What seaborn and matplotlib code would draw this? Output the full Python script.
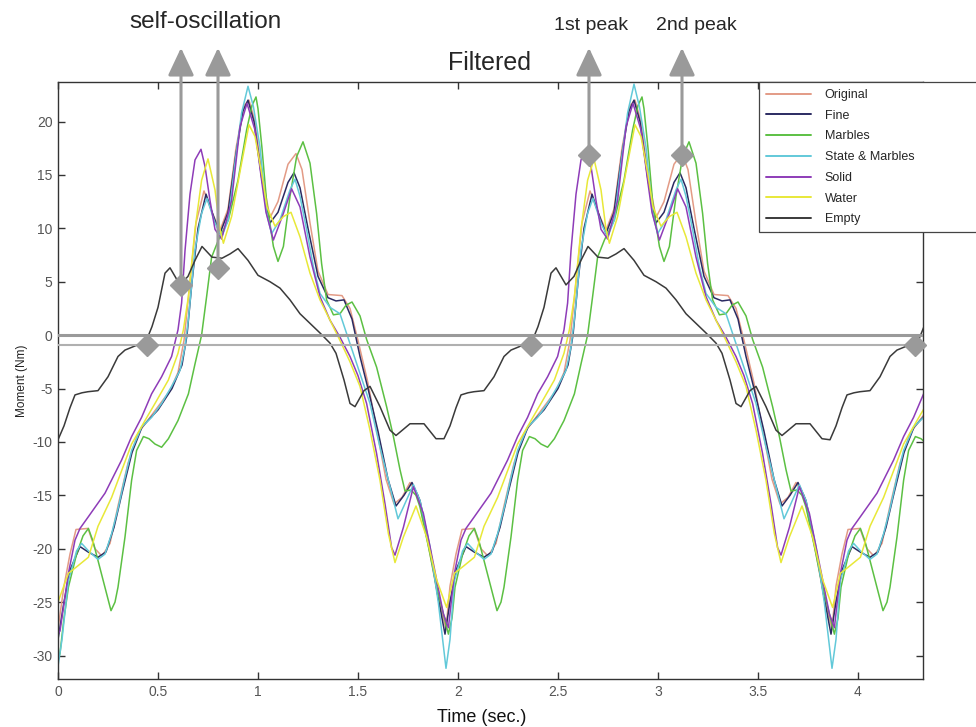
import numpy as np
import pandas as pd
import matplotlib
matplotlib.use("Agg")
import matplotlib.pyplot as plt
import seaborn as sns

# ---- measured moment traces (time in s, moment in Nm) ----
original_t = [0, 0.03, 0.06, 0.09, 0.15, 0.185, 0.22, 0.26, 0.3, 0.35, 0.4, 0.48, 0.56, 0.6, 0.63, 0.66, 0.69, 0.73,
              0.77, 0.81, 0.85, 0.89, 0.93, 0.955, 0.985, 1.02, 1.06, 1.1, 1.15, 1.19, 1.22, 1.26, 1.3, 1.35, 1.42,
              1.46, 1.5, 1.55, 1.6, 1.64, 1.68, 1.72, 1.76, 1.8, 1.85, 1.9,
              1.94, 1.96, 1.99, 2.02, 2.08, 2.115, 2.15, 2.19, 2.23, 2.28, 2.33, 2.41, 2.49, 2.53, 2.56, 2.59, 2.62,
              2.66, 2.70, 2.74, 2.78, 2.82, 2.86, 2.885, 2.915, 2.95, 2.99, 3.03, 3.08, 3.12, 3.15, 3.19, 3.23, 3.28,
              3.35, 3.39, 3.43, 3.48, 3.53, 3.57, 3.61, 3.65, 3.69, 3.73, 3.78, 3.83,
              3.87, 3.89, 3.92, 3.95, 4.01, 4.045, 4.08, 4.12, 4.16, 4.21, 4.26, 4.34]
original_m = [-27.5, -23.5, -20.5, -18.2, -18.1, -20.0, -20.7, -19.5, -16.0, -12.0, -9.2, -7.2, -5.2, -3.5, -0.5, 5.0,
              10.5, 13.5, 11.5, 9.8, 11.8, 17.5, 21.5, 22.0, 20.0, 15.0, 11.0, 12.5, 16.0, 17.0, 15.5, 10.5, 6.0, 3.8,
              3.7, 2.5, -0.5, -4.5, -9.5, -13.5, -15.8, -15.2, -13.8, -15.0, -19.5, -24.5,
              -27.5, -23.5, -20.5, -18.2, -18.1, -20.0, -20.7, -19.5, -16.0, -12.0, -9.2, -7.2, -5.2, -3.5, -0.5, 5.0,
              10.5, 13.5, 11.5, 9.8, 11.8, 17.5, 21.5, 22.0, 20.0, 15.0, 11.0, 12.5, 16.0, 17.0, 15.5, 10.5, 6.0, 3.8,
              3.7, 2.5, -0.5, -4.5, -9.5, -13.5, -15.8, -15.2, -13.8, -15.0, -19.5, -24.5,
              -27.5, -23.5, -20.5, -18.2, -18.1, -20.0, -20.7, -19.5, -16.0, -12.0, -9.2, -7.2]

fine_t = [0, 0.03, 0.06, 0.11, 0.15, 0.2, 0.24, 0.28, 0.32, 0.37, 0.42, 0.5, 0.57, 0.62, 0.645, 0.67, 0.7, 0.74, 0.78,
          0.81, 0.85, 0.89, 0.925, 0.95, 0.98, 1.02, 1.06, 1.1, 1.15, 1.18, 1.21, 1.25, 1.3, 1.35, 1.39, 1.43, 1.47,
          1.51, 1.55, 1.6, 1.65, 1.69, 1.73, 1.77, 1.81, 1.86, 1.9,
          1.935, 1.96, 1.99, 2.04, 2.08, 2.13, 2.17, 2.21, 2.25, 2.30, 2.35, 2.43, 2.50, 2.55, 2.575, 2.60, 2.63,
          2.67, 2.71, 2.74, 2.78, 2.82, 2.855, 2.88, 2.91, 2.95, 2.99, 3.03, 3.08, 3.11, 3.14, 3.18, 3.23, 3.28,
          3.32, 3.36, 3.40, 3.44, 3.48, 3.53, 3.58, 3.62, 3.66, 3.70, 3.74, 3.79, 3.83,
          3.865, 3.89, 3.92, 3.97, 4.01, 4.06, 4.10, 4.14, 4.18, 4.23, 4.28, 4.36]
fine_m = [-28.5, -25.0, -22.0, -19.8, -20.3, -20.8, -20.3, -18.0, -14.8, -11.0, -8.6, -7.0, -5.0, -2.8, 0.0, 5.0, 10.0,
          13.2, 11.0, 9.5, 11.5, 17.0, 21.0, 22.0, 20.0, 14.5, 10.5, 11.5, 14.3, 15.2, 13.8, 10.0, 5.5, 3.5, 3.2, 3.3,
          1.5, -2.0, -5.0, -9.0, -13.5, -16.0, -15.0, -13.8, -15.5, -20.0, -24.5,
          -28.0, -25.0, -22.0, -19.8, -20.3, -20.8, -20.3, -18.0, -14.8, -11.0, -8.6, -7.0, -5.0, -2.8, 0.0, 5.0,
          10.0, 13.2, 11.0, 9.5, 11.5, 17.0, 21.0, 22.0, 20.0, 14.5, 10.5, 11.5, 14.3, 15.2, 13.8, 10.0, 5.5, 3.5,
          3.2, 3.3, 1.5, -2.0, -5.0, -9.0, -13.5, -16.0, -15.0, -13.8, -15.5, -20.0, -24.5,
          -28.0, -25.0, -22.0, -19.8, -20.3, -20.8, -20.3, -18.0, -14.8, -11.0, -8.6, -7.0]

marbles_t = [0, 0.01, 0.03, 0.052, 0.093, 0.125, 0.152, 0.175, 0.2, 0.235, 0.265, 0.285, 0.3, 0.335, 0.368, 0.393,
             0.427, 0.455, 0.485, 0.518, 0.552, 0.6, 0.652, 0.685, 0.718, 0.743, 0.768, 0.802, 0.852, 0.9, 0.943,
             0.97, 0.99, 1.0, 1.02, 1.043, 1.077, 1.1, 1.127, 1.16, 1.193, 1.225, 1.26, 1.293, 1.318, 1.343, 1.377,
             1.41, 1.44, 1.47, 1.51, 1.543, 1.593, 1.643, 1.677, 1.71, 1.735, 1.765, 1.79, 1.81, 1.86, 1.893, 1.927,
             1.952, 1.97, 1.985, 2.023, 2.055, 2.082, 2.105, 2.13, 2.165, 2.195, 2.215, 2.23, 2.265, 2.298, 2.323,
             2.357, 2.385, 2.415, 2.448, 2.482, 2.53, 2.582, 2.615, 2.648, 2.673, 2.698, 2.732, 2.782, 2.83, 2.873,
             2.9, 2.92, 2.93, 2.95, 2.973, 3.007, 3.03, 3.057, 3.09, 3.123, 3.155, 3.19, 3.223, 3.248, 3.273, 3.307,
             3.34, 3.37, 3.4, 3.44, 3.473, 3.523, 3.573, 3.607, 3.64, 3.665, 3.695, 3.72, 3.74, 3.79, 3.823, 3.857,
             3.882, 3.9, 3.915, 3.953, 3.985, 4.012, 4.035, 4.06, 4.095, 4.125, 4.145, 4.16, 4.195, 4.228, 4.253,
             4.287, 4.315, 4.345]
marbles_m = [-30.5, -29.8, -26.5, -23.6, -20.5, -18.8, -18.1, -19.3, -21.1, -23.6, -25.8, -25.0, -23.6, -18.9, -13.6,
             -10.8, -9.5, -9.7, -10.2, -10.5, -9.7, -8.0, -5.5, -2.7, 0.0, 3.6, 7.3, 8.9, 10.8, 14.5, 19.2, 21.5, 22.3,
             21.2, 17.5, 12.5, 8.3, 6.9, 8.3, 13.0, 16.7, 18.1, 16.1, 11.4, 6.7, 3.3, 1.9, 2.0, 2.8, 3.1, 1.8, -0.4,
             -3.0, -6.7, -9.5, -12.6, -14.6, -14.5, -15.0, -16.1, -20.5, -23.6, -26.1,
             -28.0, -26.5, -23.6, -20.5, -18.8, -18.1, -19.3, -21.1, -23.6, -25.8, -25.0, -23.6, -18.9, -13.6, -10.8,
             -9.5, -9.7, -10.2, -10.5, -9.7, -8.0, -5.5, -2.7, 0.0, 3.6, 7.3, 8.9, 10.8, 14.5, 19.2, 21.5, 22.3, 21.2,
             17.5, 12.5, 8.3, 6.9, 8.3, 13.0, 16.7, 18.1, 16.1, 11.4, 6.7, 3.3, 1.9, 2.0, 2.8, 3.1, 1.8, -0.4, -3.0,
             -6.7, -9.5, -12.6, -14.6, -14.5, -15.0, -16.1, -20.5, -23.6, -26.1,
             -28.0, -26.5, -23.6, -20.5, -18.8, -18.1, -19.3, -21.1, -23.6, -25.8, -25.0, -23.6, -18.9, -13.6, -10.8,
             -9.5, -9.7, -10.2]

state_marbles_t = [0, 0.02, 0.052, 0.093, 0.118, 0.152, 0.2, 0.235, 0.268, 0.302, 0.335, 0.368, 0.418, 0.468, 0.518,
                   0.568, 0.61, 0.635, 0.652, 0.685, 0.718, 0.745, 0.785, 0.818, 0.852, 0.885, 0.918, 0.95, 0.977,
                   1.01, 1.043, 1.068, 1.11, 1.16, 1.185, 1.21, 1.243, 1.277, 1.31, 1.36, 1.41, 1.46, 1.51, 1.56,
                   1.61, 1.66, 1.7, 1.727, 1.777, 1.81, 1.86, 1.902,
                   1.94, 1.96, 1.982, 2.023, 2.048, 2.082, 2.13, 2.165, 2.198, 2.232, 2.265, 2.298, 2.348, 2.398,
                   2.448, 2.498, 2.54, 2.565, 2.582, 2.615, 2.648, 2.675, 2.715, 2.748, 2.782, 2.815, 2.848, 2.88,
                   2.907, 2.94, 2.973, 2.998, 3.04, 3.09, 3.115, 3.14, 3.173, 3.207, 3.24, 3.29, 3.34, 3.39, 3.44,
                   3.49, 3.54, 3.59, 3.63, 3.657, 3.707, 3.74, 3.79, 3.832,
                   3.87, 3.89, 3.912, 3.953, 3.978, 4.012, 4.06, 4.095, 4.128, 4.162, 4.195, 4.228, 4.278, 4.328]
state_marbles_m = [-31.0, -28.5, -23.0, -20.2, -19.5, -20.2, -21.0, -20.5, -18.6, -16.1, -13.3, -10.8, -8.6, -7.7,
                   -6.4, -4.8, -3.3, -1.1, 1.5, 8.0, 11.4, 12.8, 10.5, 9.2, 10.8, 16.1, 20.8, 23.3, 21.4, 17.6, 11.4,
                   9.5, 10.8, 13.6, 14.6, 13.0, 9.9, 6.4, 3.9, 2.6, 2.0, -0.8, -3.6, -6.4, -10.5, -14.2, -17.2, -16.1,
                   -14.0, -15.5, -19.8, -25.1,
                   -31.2, -28.5, -23.0, -20.2, -19.5, -20.2, -21.0, -20.5, -18.6, -16.1, -13.3, -10.8, -8.6, -7.7,
                   -6.4, -4.8, -3.3, -1.1, 1.5, 8.0, 11.4, 12.8, 10.5, 9.2, 10.8, 16.1, 20.8, 23.5, 21.4, 17.6, 11.4,
                   9.5, 10.8, 13.6, 14.6, 13.0, 9.9, 6.4, 3.9, 2.6, 2.0, -0.8, -3.6, -6.4, -10.5, -14.2, -17.2, -16.1,
                   -14.0, -15.5, -19.8, -25.1,
                   -31.2, -28.5, -23.0, -20.2, -19.5, -20.2, -21.0, -20.5, -18.6, -16.1, -13.3, -10.8, -8.6, -7.7]

solid_t = [0, 0.01, 0.052, 0.085, 0.11, 0.152, 0.235, 0.318, 0.368, 0.418, 0.468, 0.518, 0.568, 0.6, 0.618, 0.635,
           0.66, 0.685, 0.715, 0.735, 0.76, 0.785, 0.818, 0.868, 0.91, 0.945, 0.985, 1.018, 1.04, 1.077, 1.127,
           1.168, 1.21, 1.26, 1.31, 1.36, 1.41, 1.46, 1.5, 1.543, 1.593, 1.635, 1.668, 1.685, 1.727, 1.777, 1.827,
           1.877, 1.927,
           1.952, 1.982, 2.015, 2.04, 2.082, 2.165, 2.248, 2.298, 2.348, 2.398, 2.448, 2.498, 2.53, 2.548, 2.565,
           2.59, 2.615, 2.645, 2.665, 2.69, 2.715, 2.748, 2.798, 2.84, 2.875, 2.915, 2.948, 2.97, 3.007, 3.057,
           3.098, 3.14, 3.19, 3.24, 3.29, 3.34, 3.39, 3.43, 3.473, 3.523, 3.565, 3.598, 3.615, 3.657, 3.707, 3.757,
           3.807, 3.857,
           3.882, 3.912, 3.945, 3.97, 4.012, 4.095, 4.178, 4.228, 4.278, 4.328]
solid_m = [-28.0, -27.7, -22.3, -19.2, -18.1, -17.0, -14.8, -11.7, -9.5, -7.7, -5.5, -3.9, -2.0, 0.5, 3.0, 7.9, 13.2,
           16.4, 17.4, 15.8, 12.6, 9.9, 9.0, 12.6, 19.5, 21.7, 19.2, 14.5, 11.5, 8.9, 11.4, 13.7, 12.0, 7.3, 3.6, 1.4,
           -0.2, -2.0, -3.8, -6.4, -11.1, -15.8, -19.9, -20.6, -18.0, -14.2, -16.7, -21.4, -26.1,
           -27.4, -22.3, -19.2, -18.1, -17.0, -14.8, -11.7, -9.5, -7.7, -5.5, -3.9, -2.0, 0.5, 3.0, 7.9, 13.2, 16.4,
           17.4, 15.8, 12.6, 9.9, 9.0, 12.6, 19.5, 21.7, 19.2, 14.5, 11.5, 8.9, 11.4, 13.7, 12.0, 7.3, 3.6, 1.4, -0.2,
           -2.0, -3.8, -6.4, -11.1, -15.8, -19.9, -20.6, -18.0, -14.2, -16.7, -21.4, -26.1,
           -27.4, -22.3, -19.2, -18.1, -17.0, -14.8, -11.7, -9.5, -7.7, -5.5]

water_t = [0, 0.052, 0.093, 0.152, 0.2, 0.268, 0.318, 0.368, 0.435, 0.485, 0.552, 0.6, 0.627, 0.652, 0.685, 0.718,
           0.75, 0.785, 0.81, 0.827, 0.868, 0.918, 0.955, 0.985, 1.018, 1.045, 1.085, 1.127, 1.165, 1.21, 1.26, 1.31,
           1.36, 1.41, 1.46, 1.51, 1.56, 1.61, 1.652, 1.685, 1.727, 1.79, 1.843, 1.893,
           1.943, 1.982, 2.023, 2.082, 2.13, 2.198, 2.248, 2.298, 2.365, 2.415, 2.482, 2.53, 2.557, 2.582, 2.615,
           2.648, 2.68, 2.715, 2.74, 2.757, 2.798, 2.848, 2.885, 2.915, 2.948, 2.975, 3.015, 3.057, 3.095, 3.14,
           3.19, 3.24, 3.29, 3.34, 3.39, 3.44, 3.49, 3.54, 3.582, 3.615, 3.657, 3.72, 3.773, 3.823,
           3.873, 3.912, 3.953, 4.012, 4.06, 4.128, 4.178, 4.228, 4.295, 4.345]
water_m = [-25.0, -22.3, -21.7, -20.8, -17.9, -15.2, -12.7, -10.2, -8.0, -6.4, -4.2, -1.7, 0.5, 3.6, 9.9, 14.5, 16.5,
           13.6, 9.9, 8.6, 11.1, 16.1, 19.7, 18.6, 15.2, 12.0, 10.2, 11.1, 11.5, 9.2, 5.8, 3.3, 1.4, -0.5, -2.5, -4.8,
           -8.9, -13.6, -18.6, -21.3, -18.9, -16.0, -18.9, -22.9,
           -25.5, -22.3, -21.7, -20.8, -17.9, -15.2, -12.7, -10.2, -8.0, -6.4, -4.2, -1.7, 0.5, 3.6, 9.9, 14.5, 16.5,
           13.6, 9.9, 8.6, 11.1, 16.1, 19.7, 18.6, 15.2, 12.0, 10.2, 11.1, 11.5, 9.2, 5.8, 3.3, 1.4, -0.5, -2.5, -4.8,
           -8.9, -13.6, -18.6, -21.3, -18.9, -16.0, -18.9, -22.9,
           -25.5, -22.3, -21.7, -20.8, -17.9, -15.2, -12.7, -10.2, -8.0, -6.4]

empty_t = [0, 0.03, 0.06, 0.085, 0.12, 0.15, 0.2, 0.25, 0.3, 0.335, 0.4, 0.44, 0.47, 0.5, 0.535, 0.56, 0.585, 0.61,
           0.65, 0.685, 0.72, 0.77, 0.82, 0.86, 0.9, 0.95, 1.0, 1.06, 1.11, 1.16, 1.21, 1.26, 1.31, 1.36, 1.39, 1.43,
           1.46, 1.485, 1.53, 1.56, 1.61, 1.66, 1.69, 1.76, 1.83, 1.89,
           1.93, 1.96, 1.99, 2.015, 2.05, 2.08, 2.13, 2.18, 2.23, 2.265, 2.33, 2.37, 2.4, 2.43, 2.465, 2.49, 2.515,
           2.54, 2.58, 2.615, 2.65, 2.7, 2.75, 2.79, 2.83, 2.88, 2.93, 2.99, 3.04, 3.09, 3.14, 3.19, 3.24, 3.29,
           3.32, 3.36, 3.39, 3.415, 3.46, 3.49, 3.54, 3.59, 3.62, 3.69, 3.76, 3.82,
           3.86, 3.89, 3.92, 3.945, 3.98, 4.01, 4.06, 4.11, 4.16, 4.195, 4.26, 4.3, 4.33]
empty_m = [-9.8, -8.5, -6.8, -5.6, -5.4, -5.3, -5.2, -3.9, -2.0, -1.4, -0.9, -0.6, 0.8, 2.6, 5.8, 6.3, 5.5, 4.7, 5.5,
           7.0, 8.3, 7.3, 7.2, 7.6, 8.1, 7.0, 5.6, 5.0, 4.4, 3.3, 2.0, 1.1, 0.2, -0.75, -1.7, -4.2, -6.4, -6.7, -5.2,
           -4.8, -6.7, -8.9, -9.4, -8.3, -8.3, -9.7,
           -9.7, -8.5, -6.8, -5.6, -5.4, -5.3, -5.2, -3.9, -2.0, -1.4, -0.9, -0.6, 0.8, 2.6, 5.8, 6.3, 5.5, 4.7, 5.5,
           7.0, 8.3, 7.3, 7.2, 7.6, 8.1, 7.0, 5.6, 5.0, 4.4, 3.3, 2.0, 1.1, 0.2, -0.75, -1.7, -4.2, -6.4, -6.7, -5.2,
           -4.8, -6.7, -8.9, -9.4, -8.3, -8.3, -9.7,
           -9.8, -8.5, -6.8, -5.6, -5.4, -5.3, -5.2, -3.9, -2.0, -1.4, -0.9, -0.6, 0.8]

series_names = ["Original", "Fine", "Marbles", "State & Marbles", "Solid", "Water", "Empty"]
series_colors = ["#e39b86", "#2b2b62", "#5cc043", "#62c9d9", "#8e3cb8", "#e8e838", "#3a3a3a"]

# markers for the oscillation / peak events
zero_cross_t = [0.443, 2.365, 4.285]
zero_cross_m = [-0.9, -0.9, -0.9]
event_t = [0.615, 0.80, 2.655, 3.12]
event_m = [4.7, 6.3, 16.9, 16.9]

# ---- assemble tidy frame ----
traces = [(original_t, original_m), (fine_t, fine_m), (marbles_t, marbles_m),
          (state_marbles_t, state_marbles_m), (solid_t, solid_m), (water_t, water_m), (empty_t, empty_m)]
frames = [pd.DataFrame({"time": t, "moment": m, "series": name})
          for name, (t, m) in zip(series_names, traces)]
df = pd.concat(frames, ignore_index=True)

sns.set_style("ticks")
plt.rcParams["font.family"] = ["Liberation Sans", "DejaVu Sans"]
plt.rcParams["axes.unicode_minus"] = False

W, H = 976, 727
fig = plt.figure(figsize=(W / 100, H / 100), dpi=100)
ax_l, ax_r, ax_t, ax_b = 58, 923, 82, 679
ax = fig.add_axes([ax_l / W, 1 - ax_b / H, (ax_r - ax_l) / W, (ax_b - ax_t) / H])

sns.lineplot(data=df, x="time", y="moment", hue="series", hue_order=series_names,
             palette=dict(zip(series_names, series_colors)), estimator=None, sort=True,
             linewidth=1.1, ax=ax, legend="full")
for line in ax.get_lines():
    line.set_solid_joinstyle("round")
ax.get_lines()[-1].set_linewidth(0.8)

ax.set_xlim(0, 4.325)
ax.set_ylim(-32.2, 23.7)
ax.set_xticks([0, 0.5, 1, 1.5, 2, 2.5, 3, 3.5, 4])
ax.set_xticklabels(["0", "0.5", "1", "1.5", "2", "2.5", "3", "3.5", "4"])
ax.set_yticks(list(range(-30, 21, 5)))

for s in ax.spines.values():
    s.set_visible(True)
    s.set_color("#333333")
    s.set_linewidth(1.0)
ax.tick_params(direction="in", top=True, right=True, length=5, width=1.0, color="#333333",
               labelsize=10, labelcolor="#555555", pad=4)

ax.set_xlabel("Time (sec.)", fontsize=13, color="#111111")
ax.xaxis.set_label_coords(0.49, -0.051)
ax.set_ylabel("Moment (Nm)", fontsize=8.5, color="#222222")
ax.yaxis.set_label_coords(-0.035, 0.5)

# reference lines
ax.axhline(0, color="#9a9a9a", lw=2.2, zorder=3)
ax.axhline(-0.9, color="#b0b0b0", lw=1.5, zorder=3)

# event arrows pointing up out of the axes
for t, m in zip(event_t, event_m):
    ax.annotate("", xy=(t, 26.9), xytext=(t, m), annotation_clip=False,
                arrowprops=dict(arrowstyle="-|>,head_length=1.7,head_width=0.8",
                                color="#9a9a9a", lw=2.2, shrinkA=0, shrinkB=0), zorder=4)
ax.plot(event_t, event_m, "D", ms=11, color="#9a9a9a", mec="#9a9a9a", zorder=5, clip_on=False)
ax.plot(zero_cross_t, zero_cross_m, "D", ms=11, color="#9a9a9a", mec="#9a9a9a", zorder=5, clip_on=False)

# legend
old = ax.get_legend()
handles = old.legend_handles
labels = [t.get_text() for t in old.get_texts()]
old.remove()
leg = ax.legend(handles, labels, loc="upper left", bbox_to_anchor=(0.8104, 1.0, 0.28, 0), mode="expand",
                borderaxespad=0, fontsize=9, handlelength=3.6, handletextpad=1.1, labelspacing=0.7,
                borderpad=0.55, fancybox=False, framealpha=1, edgecolor="#444444")
leg.get_frame().set_linewidth(0.9)
leg.set_zorder(6)
for h in leg.legend_handles:
    h.set_linewidth(1.4)

fig.text(489 / W, 1 - 63 / H, "Filtered", fontsize=18, ha="center", va="center")
fig.text(206 / W, 1 - 22 / H, "self-oscillation", fontsize=17.5, ha="center", va="center")
fig.text(591 / W, 1 - 25 / H, "1st peak", fontsize=14, ha="center", va="center")
fig.text(696 / W, 1 - 25 / H, "2nd peak", fontsize=14, ha="center", va="center")

fig.savefig("out.png", dpi=100, facecolor="white")
